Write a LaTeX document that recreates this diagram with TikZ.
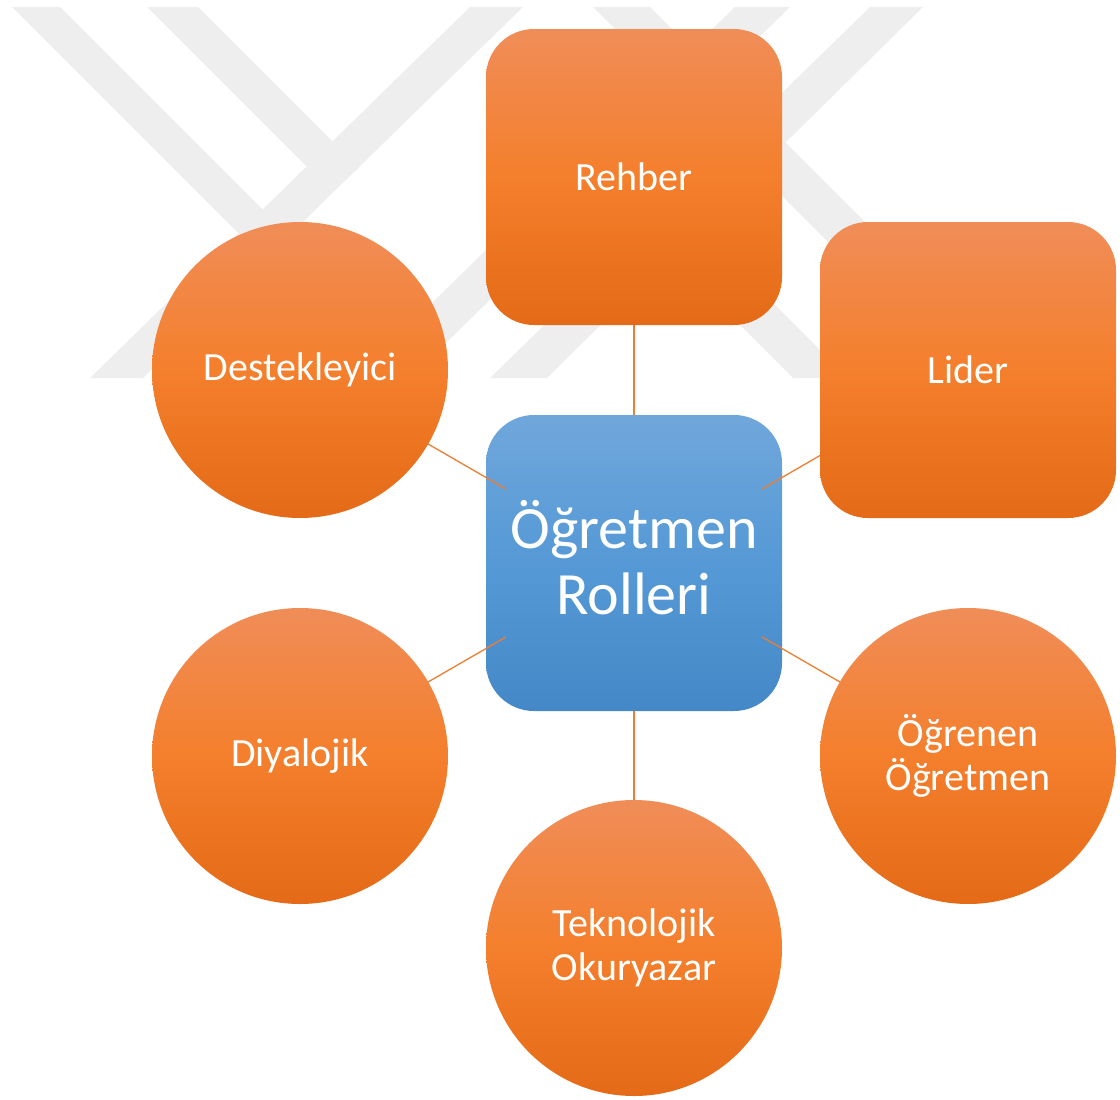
\documentclass[tikz,border=0pt]{standalone}
\usepackage{fontspec}
\setmainfont{Carlito}
\pgfdeclarelayer{wmlayer}
\pgfdeclarelayer{backlayer}
\pgfdeclarelayer{edgelayer}
\pgfsetlayers{wmlayer,backlayer,edgelayer,main}
\definecolor{oTop}{HTML}{F08D58}
\definecolor{oMid}{HTML}{F47F2C}
\definecolor{oBot}{HTML}{E46A17}
\definecolor{bTop}{HTML}{70A7DB}
\definecolor{bMid}{HTML}{5599D6}
\definecolor{bBot}{HTML}{4488C7}
\definecolor{connc}{HTML}{ED7D31}
\definecolor{wmc}{HTML}{EEEEEE}
\begin{document}
\begin{tikzpicture}[x=1pt,y=-1pt,
  orangefill/.style={top color=oTop, bottom color=oBot, middle color=oMid},
  roundbox/.style={orangefill, rectangle, rounded corners=48pt, minimum width=296pt, minimum height=296pt, inner sep=0pt, text=white, font=\fontsize{40}{44}\selectfont, align=center},
  disc/.style={orangefill, circle, minimum size=296pt, inner sep=0pt, text=white, font=\fontsize{40}{44}\selectfont, align=center},
  hub/.style={top color=bTop, bottom color=bBot, middle color=bMid, rectangle, rounded corners=48pt, minimum width=296pt, minimum height=296pt, inner sep=0pt, text=white, font=\fontsize{60}{66}\selectfont, align=center},
  link/.style={draw=connc, line width=1.3pt, shorten <=148pt, shorten >=148pt},
  wmband/.style={fill=wmc}
]
\useasboundingbox (0,0) rectangle (1120,1100);
\begin{pgfonlayer}{wmlayer}
\fill[wmband] (470,7) -- (523,7) -- (143,378) -- (90,378) -- cycle;
\fill[wmband] (12,7) -- (60,7) -- (289,236) -- (264,259) -- cycle;
\fill[wmband] (147,7) -- (198,7) -- (359,168) -- (331,191) -- cycle;
\fill[wmband] (735,7) -- (790,7) -- (410,378) -- (355,378) -- cycle;
\fill[wmband] (593,7) -- (650,7) -- (1021,378) -- (964,378) -- cycle;
\fill[wmband] (870,7) -- (923,7) -- (547,378) -- (490,378) -- cycle;
\fill[wmband] (643,228) -- (671,201) -- (848,378) -- (793,378) -- cycle;
\end{pgfonlayer}
\begin{pgfonlayer}{backlayer}
\node[hub] (c) at (634,563) {Öğretmen\\Rolleri\rule[-12pt]{0pt}{12pt}};
\end{pgfonlayer}
\node[roundbox] (reh) at (634,177) {Rehber};
\node[roundbox] (lid) at (968,370) {Lider};
\node[disc] (des) at (300,370) {Destekleyici};
\node[disc] (diy) at (300,756) {Diyalojik};
\node[disc] (ogr) at (968,756) {Öğrenen\\Öğretmen};
\node[disc] (tek) at (634,948) {Teknolojik\\Okuryazar};
\begin{pgfonlayer}{edgelayer}
\foreach \n in {reh,lid,des,diy,ogr,tek} \draw[link] (c.center) -- (\n.center);
\end{pgfonlayer}
\end{tikzpicture}
\end{document}
